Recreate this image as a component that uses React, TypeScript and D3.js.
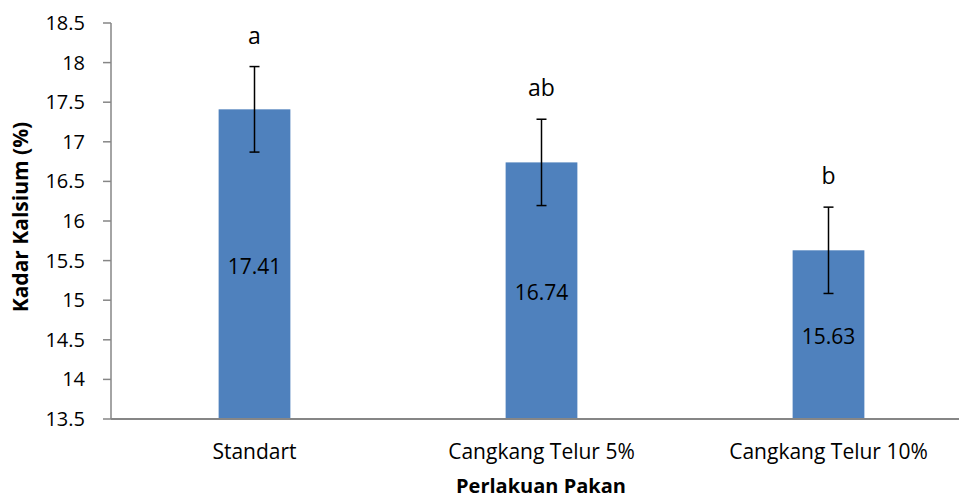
import React from "react";
import * as d3 from "d3";

const categories = ["Standart", "Cangkang Telur 5%", "Cangkang Telur 10%"];
const values = [17.41, 16.74, 15.63];
const errors = [0.54, 0.545, 0.545];
const letters = ["a", "ab", "b"];
const yTicks = [13.5, 14, 14.5, 15, 15.5, 16, 16.5, 17, 17.5, 18, 18.5];

const W = 959;
const H = 498;
const FONT = "'Open Sans', sans-serif";

export default function App() {
  const x = d3.scaleBand<string>().domain(categories).range([111, 972]).paddingInner(0.75).paddingOuter(0.375);
  const y = d3.scaleLinear().domain([13.5, 18.5]).range([419, 23]);
  const axisColor = "#868686";

  return (
    <svg width={W} height={H} style={{ position: "absolute", left: 0, top: 0, background: "#fff" }}>
      {/* y axis */}
      <line x1={111} x2={111} y1={y(18.5)} y2={y(13.5)} stroke={axisColor} strokeWidth={1.5} />
      {yTicks.map((t) => (
        <g key={t}>
          <line x1={103} x2={111} y1={y(t)} y2={y(t)} stroke={axisColor} strokeWidth={1.5} />
          <text x={85} y={y(t)} dy="0.35em" textAnchor="end" fontFamily={FONT} fontSize={20} fill="#000">
            {t}
          </text>
        </g>
      ))}
      {/* bars */}
      {categories.map((c, i) => {
        const bx = x(c)!;
        const bw = x.bandwidth();
        const cx = bx + bw / 2;
        const top = y(values[i]);
        const eTop = y(values[i] + errors[i]);
        const eBot = y(values[i] - errors[i]);
        return (
          <g key={c}>
            <rect x={bx} y={top} width={bw} height={y(13.5) - top} fill="#4F81BD" />
            <text x={cx} y={(top + y(13.5)) / 2 + 2} dy="0.35em" textAnchor="middle" fontFamily={FONT} fontSize={21} fill="#000">
              {values[i].toFixed(2)}
            </text>
            <line x1={cx} x2={cx} y1={eTop} y2={eBot} stroke="#000" strokeWidth={1.5} />
            <line x1={cx - 5} x2={cx + 5} y1={eTop} y2={eTop} stroke="#000" strokeWidth={1.5} />
            <line x1={cx - 5} x2={cx + 5} y1={eBot} y2={eBot} stroke="#000" strokeWidth={1.5} />
            <text x={cx} y={eTop - 23} textAnchor="middle" fontFamily={FONT} fontSize={23} fill="#000">
              {letters[i]}
            </text>
            <text x={cx} y={459} textAnchor="middle" fontFamily={FONT} fontSize={21} fill="#000">
              {c}
            </text>
          </g>
        );
      })}
      {/* x axis */}
      <line x1={111} x2={W} y1={y(13.5)} y2={y(13.5)} stroke={axisColor} strokeWidth={2} />
      <text x={541} y={493} textAnchor="middle" fontFamily={FONT} fontSize={20} fontWeight="bold" fill="#000">
        Perlakuan Pakan
      </text>
      <text
        transform={`translate(28, ${y(16.05)}) rotate(-90)`}
        textAnchor="middle"
        fontFamily={FONT}
        fontSize={21}
        fontWeight="bold"
        fill="#000"
      >
        Kadar Kalsium (%)
      </text>
    </svg>
  );
}
